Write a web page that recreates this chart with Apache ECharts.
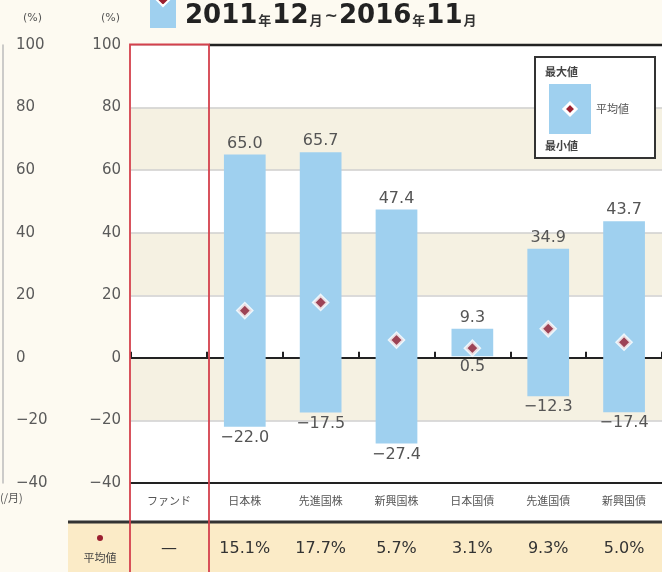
<!DOCTYPE html>
<html>
<head>
<meta charset="utf-8">
<script src="https://cdn.jsdelivr.net/npm/echarts@6/dist/echarts.min.js"></script>
<style>
  html, body { margin: 0; padding: 0; background: #fdfaf1; }
  #chart { width: 662px; height: 572px; }
</style>
</head>
<body>
<div id="chart"></div>
<script>
// 資産クラス別 年間リターン（最大・最小・平均）
const categories = ['ファンド', '日本株', '先進国株', '新興国株', '日本国債', '先進国債', '新興国債'];
const maxValues = [null, 65.0, 65.7, 47.4, 9.3, 34.9, 43.7];
const minValues = [null, -22.0, -17.5, -27.4, 0.5, -12.3, -17.4];
const avgValues = [null, 15.1, 17.7, 5.7, 3.1, 9.3, 5.0];
const avgLabels = avgValues.map(v => v == null ? '—' : v.toFixed(1) + '%');
const yMin = -40, yMax = 100, yStep = 20;

const FONT = 'DejaVu Sans';
const JP = 'Noto Sans CJK JP';
const BLUE = '#9fd0ef';
const RED_LINE = '#d4414d';
const DOT = '#9b1f2f';

const chart = echarts.init(document.getElementById('chart'));

const rangeData = categories.map((c, i) => [i, minValues[i], maxValues[i]]);
const signed = v => v < 0 ? '\u2212' + Math.abs(v) : String(v);

const option = {
  backgroundColor: '#fdfaf1',
  animation: false,
  grid: { left: 131, top: 45, width: 536, height: 438 },
  xAxis: [
    {
      type: 'category', data: categories, position: 'bottom',
      axisLine: { onZero: false, lineStyle: { color: '#222', width: 2 } },
      axisTick: { show: false },
      axisLabel: { color: '#555', fontSize: 11, fontFamily: JP, margin: 12 }
    },
    {
      type: 'category', data: categories, position: 'bottom',
      axisLine: { onZero: true, lineStyle: { color: '#222', width: 2 } },
      axisTick: { show: true, inside: true, length: 6, lineStyle: { color: '#222', width: 2 } },
      axisLabel: { show: false }
    },
    {
      type: 'category', data: avgLabels, position: 'bottom', offset: 50,
      axisLine: { show: false }, axisTick: { show: false },
      axisLabel: { color: '#333', fontSize: 16, fontFamily: FONT, margin: 8 }
    }
  ],
  yAxis: [
    {
      type: 'value', min: yMin, max: yMax, interval: yStep, position: 'left',
      axisLine: { show: false }, axisTick: { show: false },
      axisLabel: { color: '#5a5a5a', fontSize: 15, fontFamily: FONT, margin: 10, formatter: signed },
      splitLine: { lineStyle: { color: '#cfcfcf', width: 1.5 } },
      splitArea: { show: true, areaStyle: { color: ['#ffffff', '#f5f1e2'] } }
    },
    {
      type: 'value', min: yMin, max: yMax, interval: yStep, position: 'left', offset: 128,
      axisLine: { show: true, lineStyle: { color: '#bbb', width: 1.5 } },
      axisTick: { show: false },
      axisLabel: { inside: true, color: '#5a5a5a', fontSize: 15, fontFamily: FONT, margin: 13, formatter: signed },
      splitLine: { show: false }
    }
  ],
  series: [
    {
      type: 'custom',
      xAxisIndex: 0, yAxisIndex: 0,
      data: rangeData.filter(d => d[1] != null),
      renderItem: function (params, api) {
        const idx = api.value(0);
        const lo = api.coord([idx, api.value(1)]);
        const hi = api.coord([idx, api.value(2)]);
        const w = api.size([1, 0])[0] * 0.55;
        const fmt = v => (v < 0 ? '\u2212' + Math.abs(v).toFixed(1) : v.toFixed(1));
        return {
          type: 'group',
          children: [
            { type: 'rect', shape: { x: hi[0] - w / 2, y: hi[1], width: w, height: lo[1] - hi[1] },
              style: { fill: BLUE } },
            { type: 'text', x: hi[0], y: hi[1] - 3,
              style: { text: fmt(api.value(2)), fill: '#555', font: '16px ' + FONT,
                textAlign: 'center', textVerticalAlign: 'bottom' } },
            { type: 'text', x: lo[0], y: lo[1] + 3,
              style: { text: fmt(api.value(1)), fill: '#555', font: '16px ' + FONT,
                textAlign: 'center', textVerticalAlign: 'top' } }
          ]
        };
      },
      z: 3
    },
    {
      type: 'scatter',
      xAxisIndex: 0, yAxisIndex: 0,
      data: avgValues,
      symbol: 'diamond', symbolSize: 14,
      itemStyle: { color: DOT, borderColor: '#fff', borderWidth: 3 },
      z: 5
    }
  ],
  graphic: [
    // 表の背景
    { type: 'rect', shape: { x: 131, y: 484, width: 531, height: 38 }, style: { fill: '#ffffff' }, z: -10 },
    { type: 'rect', shape: { x: 68, y: 523, width: 594, height: 49 }, style: { fill: '#fbebc7' }, z: -10 },
    { type: 'line', shape: { x1: 68, y1: 522, x2: 662, y2: 522 }, style: { stroke: '#333', lineWidth: 3 }, z: 10 },
    // ファンド列の赤枠
    { type: 'line', shape: { x1: 209, y1: 45, x2: 662, y2: 45 }, style: { stroke: '#222', lineWidth: 2.5 }, z: 10 },
    { type: 'polyline', shape: { points: [[130, 572], [130, 44.5], [209, 44.5], [209, 572]] },
      style: { stroke: RED_LINE, lineWidth: 1.8, fill: null }, z: 11 },
    // 平均値 見出し
    { type: 'circle', shape: { cx: 100, cy: 538, r: 3 }, style: { fill: DOT }, z: 10 },
    { type: 'text', x: 100, y: 558, style: { text: '平均値', font: '11px ' + JP, fill: '#444',
      textAlign: 'center', textVerticalAlign: 'middle' }, z: 10 },
    // 単位
    { type: 'text', x: 42, y: 18, style: { text: '(%)', font: '11px ' + FONT, fill: '#555',
      textAlign: 'right', textVerticalAlign: 'middle' } },
    { type: 'text', x: 120, y: 18, style: { text: '(%)', font: '11px ' + FONT, fill: '#555',
      textAlign: 'right', textVerticalAlign: 'middle' } },
    { type: 'text', x: 0, y: 498, style: { text: '(/月)', font: '11px ' + JP, fill: '#555',
      textAlign: 'left', textVerticalAlign: 'middle' } },
    // タイトル
    { type: 'rect', shape: { x: 150, y: 0, width: 26, height: 28 }, style: { fill: BLUE } },
    { type: 'polygon', shape: { points: [[163, -6], [169, 0], [163, 6], [157, 0]] },
      style: { fill: DOT, stroke: '#fff', lineWidth: 2 } },
    { type: 'text', x: 185, y: 16,
      style: {
        text: '{b|2011}{s|年}{b|12}{s|月}{t|~}{b|2016}{s|年}{b|11}{s|月}',
        textVerticalAlign: 'middle',
        rich: {
          b: { font: 'bold 26px ' + FONT, fill: '#222' },
          s: { font: 'bold 13px ' + JP, fill: '#333', padding: [9, 1, 0, 1] },
          t: { font: 'bold 16px ' + FONT, fill: '#333', padding: [2, 1, 0, 1] }
        }
      } },
    // 凡例
    { type: 'rect', shape: { x: 535, y: 57, width: 120, height: 101 },
      style: { fill: '#fff', stroke: '#333', lineWidth: 2 }, z: 20 },
    { type: 'text', x: 545, y: 72, style: { text: '最大値', font: 'bold 11px ' + JP, fill: '#444',
      textVerticalAlign: 'middle' }, z: 21 },
    { type: 'rect', shape: { x: 549, y: 84, width: 42, height: 50 }, style: { fill: BLUE }, z: 21 },
    { type: 'polygon', shape: { points: [[570, 103], [576, 109], [570, 115], [564, 109]] },
      style: { fill: DOT, stroke: '#fff', lineWidth: 3 }, z: 22 },
    { type: 'text', x: 596, y: 109, style: { text: '平均値', font: '11px ' + JP, fill: '#555',
      textVerticalAlign: 'middle' }, z: 21 },
    { type: 'text', x: 545, y: 146, style: { text: '最小値', font: 'bold 11px ' + JP, fill: '#444',
      textVerticalAlign: 'middle' }, z: 21 }
  ]
};

chart.setOption(option);
</script>
</body>
</html>
